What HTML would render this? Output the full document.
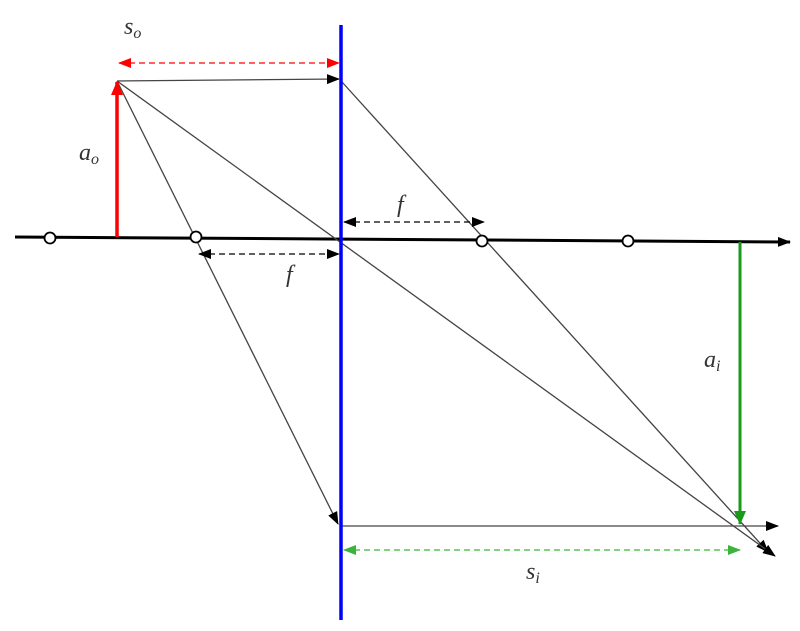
<!DOCTYPE html>
<html><head><meta charset="utf-8"><style>
html,body{margin:0;padding:0;background:#fff;}
svg{display:block;}
text{font-family:"Liberation Serif",serif;font-style:italic;fill:#333;}
</style></head><body>
<svg width="800" height="631" viewBox="0 0 800 631" xmlns="http://www.w3.org/2000/svg">
<defs>
<marker id="ak" markerWidth="13" markerHeight="10" refX="12" refY="5" orient="auto-start-reverse" markerUnits="userSpaceOnUse"><path d="M0,0 L13,5 L0,10 z" fill="#000"/></marker>
<marker id="ar" markerWidth="13" markerHeight="10" refX="12" refY="5" orient="auto-start-reverse" markerUnits="userSpaceOnUse"><path d="M0,0 L13,5 L0,10 z" fill="#f00"/></marker>
<marker id="ag" markerWidth="14" markerHeight="12" refX="13" refY="6" orient="auto" markerUnits="userSpaceOnUse"><path d="M0,0 L14,6 L0,12 z" fill="#1a9a1a"/></marker>
<marker id="ag2" markerWidth="13" markerHeight="10" refX="12" refY="5" orient="auto-start-reverse" markerUnits="userSpaceOnUse"><path d="M0,0 L13,5 L0,10 z" fill="#3cb43c"/></marker>
<marker id="ar2" markerWidth="14" markerHeight="12" refX="13" refY="6" orient="auto" markerUnits="userSpaceOnUse"><path d="M0,0 L14,6 L0,12 z" fill="#f00"/></marker>
</defs>
<line x1="15" y1="237" x2="790" y2="242" stroke="#000" stroke-width="3" marker-end="url(#ak)"/>
<g stroke="#444" stroke-width="1.3" fill="none">
<line x1="117" y1="81" x2="339" y2="79" marker-end="url(#ak)"/>
<line x1="342" y1="82" x2="768" y2="552" marker-end="url(#ak)"/>
<line x1="117" y1="81" x2="775" y2="556" marker-end="url(#ak)"/>
<line x1="117" y1="81" x2="338" y2="524" marker-end="url(#ak)"/>
<line x1="342" y1="526" x2="778" y2="526" marker-end="url(#ak)"/>
</g>
<line x1="117" y1="237" x2="117" y2="82" stroke="#f00" stroke-width="3.5" marker-end="url(#ar2)"/>
<line x1="740" y1="242" x2="740" y2="524" stroke="#1a9a1a" stroke-width="3" marker-end="url(#ag)"/>
<line x1="341" y1="25" x2="341" y2="620" stroke="#00f" stroke-width="3.5"/>
<line x1="119" y1="63" x2="339" y2="63" stroke="#f00" stroke-width="1.3" stroke-dasharray="6,4" marker-start="url(#ar)" marker-end="url(#ar)"/>
<line x1="344" y1="222" x2="484" y2="222" stroke="#000" stroke-width="1.3" stroke-dasharray="6,4" marker-start="url(#ak)" marker-end="url(#ak)"/>
<line x1="199" y1="254" x2="339" y2="254" stroke="#000" stroke-width="1.3" stroke-dasharray="6,4" marker-start="url(#ak)" marker-end="url(#ak)"/>
<line x1="344" y1="550" x2="740" y2="550" stroke="#3cb43c" stroke-width="1.3" stroke-dasharray="6,4" marker-start="url(#ag2)" marker-end="url(#ag2)"/>
<g fill="#fff" stroke="#000" stroke-width="1.8">
<circle cx="50" cy="238" r="5.5"/>
<circle cx="196" cy="237" r="5.5"/>
<circle cx="482" cy="241" r="5.5"/>
<circle cx="628" cy="241" r="5.5"/>
</g>
<text x="124" y="34" font-size="24">s<tspan font-size="16" dy="4">o</tspan></text>
<text x="79" y="160" font-size="24">a<tspan font-size="16" dy="4">o</tspan></text>
<text x="397" y="212" font-size="24">f</text>
<text x="286" y="282" font-size="24">f</text>
<text x="704" y="367" font-size="24">a<tspan font-size="16" dy="4">i</tspan></text>
<text x="526" y="579" font-size="24">s<tspan font-size="16" dy="4">i</tspan></text>
</svg>
</body></html>
